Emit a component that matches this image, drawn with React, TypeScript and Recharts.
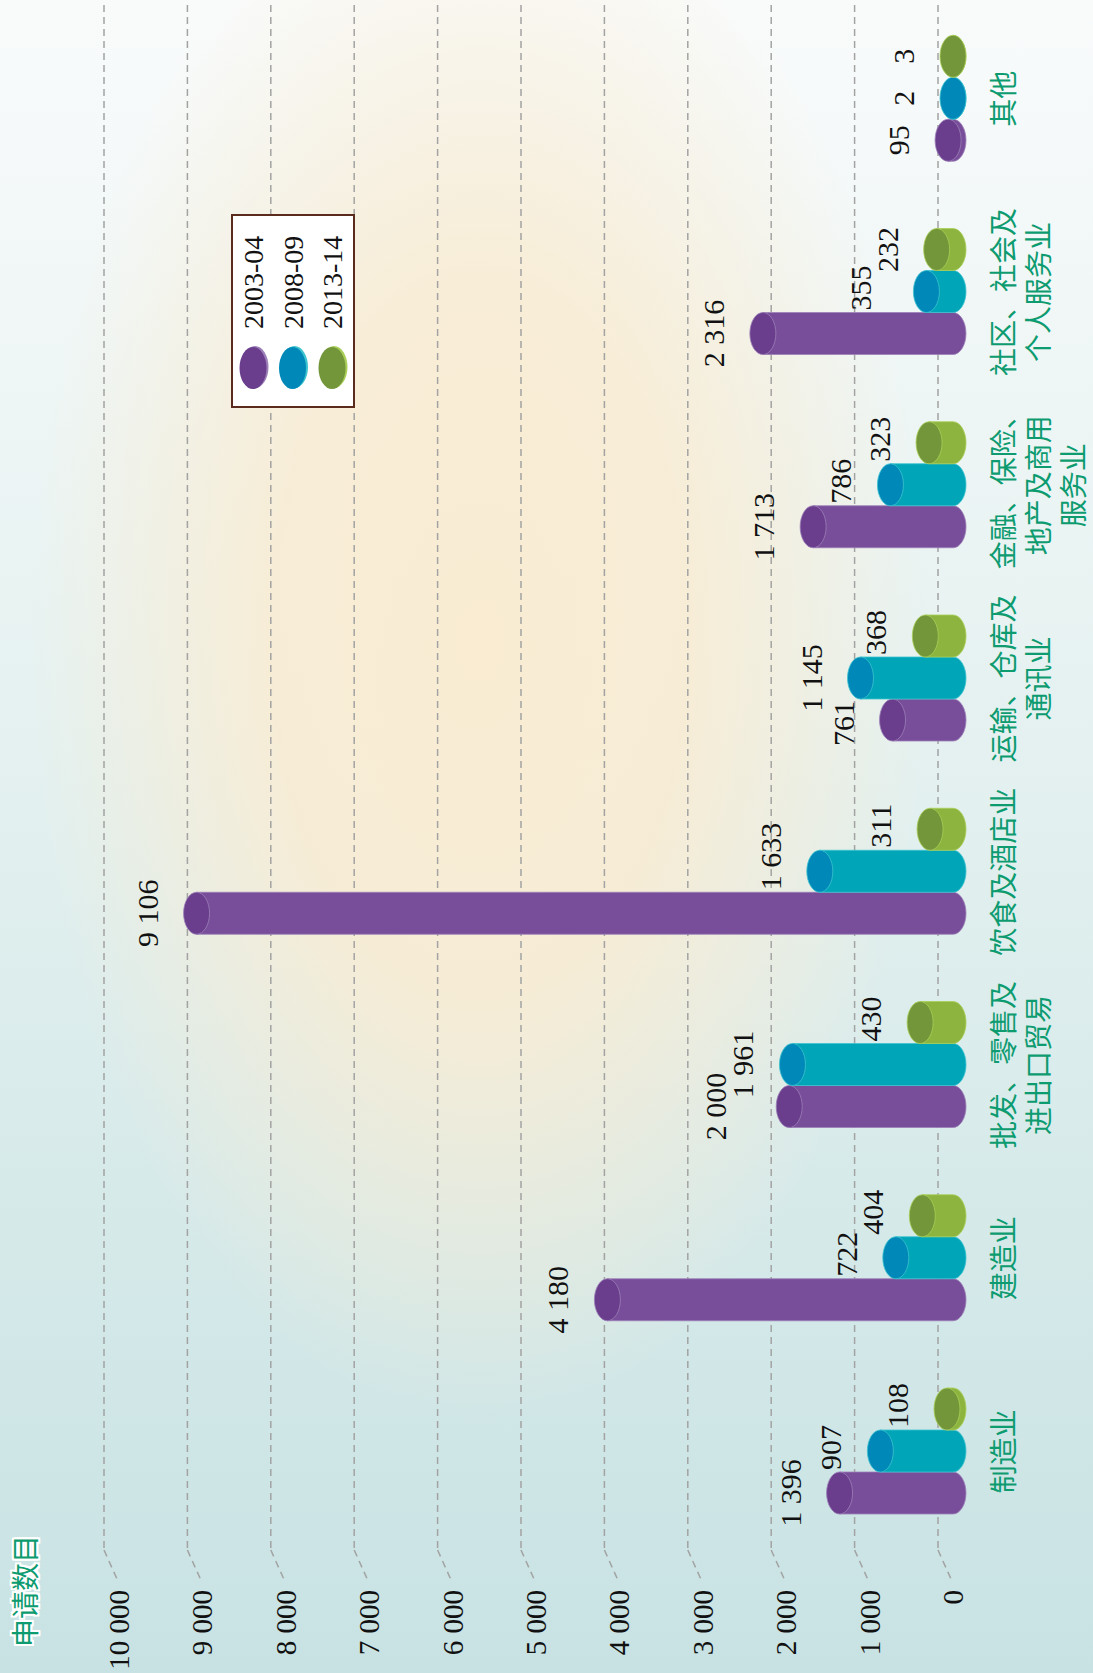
import React from 'react';
import { BarChart, Bar, XAxis, YAxis, CartesianGrid, Legend, LabelList } from 'recharts';

// 行业类别（换行符用于多行标签）
const CATEGORIES = [
  '制造业',
  '建造业',
  '批发、零售及\n进出口贸易',
  '饮食及酒店业',
  '运输、仓库及\n通讯业',
  '金融、保险、\n地产及商用\n服务业',
  '社区、社会及\n个人服务业',
  '其他',
];
const SERIES_NAMES = ['2003-04', '2008-09', '2013-14'];
const APPS_2003 = [1396, 4180, 2000, 9106, 761, 1713, 2316, 95];
const APPS_2008 = [907, 722, 1961, 1633, 1145, 786, 355, 2];
const APPS_2013 = [108, 404, 430, 311, 368, 323, 232, 3];
const Y_TICKS = [0, 1000, 2000, 3000, 4000, 5000, 6000, 7000, 8000, 9000, 10000];

const SERIES = [APPS_2003, APPS_2008, APPS_2013];
const data = CATEGORIES.map((name, i) => ({
  name,
  s0: APPS_2003[i],
  s1: APPS_2008[i],
  s2: APPS_2013[i],
}));

// chart is drawn upright, then the whole thing is turned -90deg
const W = 1673;
const H = 1093;
const MARGIN = { top: 104, right: 2, bottom: 0, left: 0 };
const Y_AXIS_W = 125;
const X_AXIS_H = 155;
const PLOT_TOP = MARGIN.top;
const PLOT_BOTTOM = H - X_AXIS_H;
const Y_MAX = 10000;

const BODY = ['#784e9a', '#00a6b7', '#8cb43e'];
const CAP = ['#6a3e8d', '#0089b8', '#74963b'];
const EDGE = ['#9c80b8', '#3cc3cf', '#a9cf58'];
const GREEN = '#0d9b70';
const SERIF = "'Liberation Serif', 'Times New Roman', serif";
const CJK = "'Noto Sans CJK SC', 'Noto Sans', sans-serif";

const BAR_W = 42;
const CAP_RY = 13;
const FLOOR_DEPTH = 28;
const CAP_LIFT = 5;
const LABEL_GAP = 26;
const LABEL_H = 24;

// 9106 -> "9 106"
function fmt(n: number): string {
  if (n < 1000) return String(n);
  return `${Math.floor(n / 1000)} ${String(n % 1000).padStart(3, '0')}`;
}

const yPx = (v: number) => PLOT_BOTTOM - (v / Y_MAX) * (PLOT_BOTTOM - PLOT_TOP);
const capTopOf = (v: number) => Math.min(yPx(v) + CAP_LIFT, PLOT_BOTTOM + FLOOR_DEPTH - 2 * CAP_RY);
const labelWidth = (s: string) => s.replace(/ /g, '').length * 15 + (s.split(' ').length - 1) * 7.5;

// value-label placement in one category: dx relative to own bar centre, baseline y
function labelLayout(ci: number): { dx: number; base: number }[] {
  const n = SERIES.length;
  const vals = SERIES.map((s) => s[ci]);
  const caps = vals.map(capTopOf);
  const cx = vals.map((_, s) => (s - (n - 1) / 2) * BAR_W);
  const w = vals.map((v) => labelWidth(fmt(v)));
  const base = caps.map((c) => c - LABEL_GAP);
  const pos = cx.slice();
  // keep off a taller neighbouring bar
  for (let s = 0; s < n; s++) {
    if (s > 0 && caps[s - 1] < base[s] + 2) pos[s] = Math.max(pos[s], cx[s - 1] + BAR_W / 2 + 2 + w[s] / 2);
    if (s < n - 1 && caps[s + 1] < base[s] + 2) pos[s] = Math.min(pos[s], cx[s + 1] - BAR_W / 2 - 2 - w[s] / 2);
  }
  // stack colliding labels, larger value on top
  for (let b = 1; b < n; b++) {
    const a = b - 1;
    const overlapX = Math.abs(pos[a] - pos[b]) < (w[a] + w[b]) / 2 + 4;
    if (overlapX && Math.abs(base[a] - base[b]) < LABEL_H) {
      if (vals[a] >= vals[b]) base[a] = base[b] - LABEL_H - 3;
      else base[b] = base[a] - LABEL_H - 3;
    }
  }
  return pos.map((p, s) => ({ dx: p - cx[s], base: base[s] }));
}

function cylinder(si: number) {
  return (props: any) => {
    const { x, y, width, height } = props;
    if (x == null || y == null) return <g />;
    const rx = width / 2;
    const cx = x + rx;
    const floor = y + height + FLOOR_DEPTH;
    const top = Math.min(y + CAP_LIFT, floor - 2 * CAP_RY);
    const c1 = top + CAP_RY;
    const c2 = floor - CAP_RY;
    const d = `M${x},${c1} L${x},${c2} A${rx},${CAP_RY} 0 0 0 ${x + width},${c2} L${x + width},${c1} Z`;
    return (
      <g>
        <path d={d} fill={BODY[si]} stroke={EDGE[si]} strokeWidth={0.8} />
        <ellipse cx={cx} cy={c1} rx={rx} ry={CAP_RY} fill={CAP[si]} stroke={EDGE[si]} strokeWidth={0.8} />
      </g>
    );
  };
}

function valueLabel(si: number) {
  return (props: any) => {
    const { x, width, value } = props;
    let ci = props.index;
    if (ci == null) ci = Math.floor((x - Y_AXIS_W) / ((W - Y_AXIS_W - MARGIN.right) / CATEGORIES.length));
    const { dx, base } = labelLayout(ci)[si];
    return (
      <text x={x + width / 2 + dx} y={base} textAnchor="middle" fontFamily={SERIF} fontSize={30} fill="#111">
        {fmt(Number(value))}
      </text>
    );
  };
}

function CategoryTick(props: any) {
  const { x, y, payload } = props;
  const lines = String(payload.value).split('\n');
  return (
    <text x={x} y={y + 76} textAnchor="middle" fontFamily={CJK} fontSize={28} fill={GREEN}>
      {lines.map((l, i) => (
        <tspan key={i} x={x} dy={i === 0 ? 0 : 35}>
          {l}
        </tspan>
      ))}
    </text>
  );
}

function ValueTick(props: any) {
  const { x, y, payload } = props;
  return (
    <g>
      <line x1={x - 2} y1={y} x2={x - 31} y2={y + 13} stroke="#a3a3a3" strokeWidth={1.5} strokeDasharray="7 5" />
      <text x={x - 42} y={y + 25} textAnchor="end" fontFamily={SERIF} fontSize={29} fill="#111">
        {fmt(Number(payload.value))}
      </text>
    </g>
  );
}

function LegendBox(props: any) {
  const items = props.payload && props.payload.length ? props.payload.map((p: any) => p.value) : SERIES_NAMES;
  return (
    <svg width={194} height={124} style={{ display: 'block' }}>
      <rect x={1} y={1} width={192} height={122} fill="#ffffff" stroke="#5b2b1e" strokeWidth={2} />
      {items.map((n: string, i: number) => {
        const cy = 22 + i * 39.5;
        return (
          <g key={n}>
            <ellipse cx={41} cy={cy + 2} rx={21} ry={13.5} fill={EDGE[i]} />
            <ellipse cx={40} cy={cy} rx={21} ry={13.5} fill={CAP[i]} />
            <text x={79} y={cy + 10} fontFamily={SERIF} fontSize={28} fill="#111">
              {n}
            </text>
          </g>
        );
      })}
    </svg>
  );
}

export default function App() {
  return (
    <div
      style={{
        position: 'absolute',
        left: 0,
        top: 0,
        width: H,
        height: W,
        overflow: 'hidden',
        background:
          'radial-gradient(ellipse 450px 780px at 480px 640px, rgba(249,236,211,1) 0%, rgba(249,236,211,0.9) 45%, rgba(249,236,211,0) 100%), linear-gradient(to bottom, #f9fbfb 0%, #e4f1f0 45%, #c8e2e3 100%)',
      }}
    >
      <div
        style={{
          position: 'absolute',
          left: 0,
          top: 0,
          width: W,
          height: H,
          transformOrigin: '0 0',
          transform: `translateY(${W}px) rotate(-90deg)`,
        }}
      >
        <div
          style={{
            position: 'absolute',
            left: 26,
            top: 4,
            fontFamily: CJK,
            fontSize: 28,
            color: GREEN,
            zIndex: 2,
            textShadow:
              '2px 0 0 #fff, -2px 0 0 #fff, 0 2px 0 #fff, 0 -2px 0 #fff, 2px 2px 0 #fff, -2px -2px 0 #fff, 2px -2px 0 #fff, -2px 2px 0 #fff',
          }}
        >
          申请数目
        </div>
        <BarChart width={W} height={H} data={data} margin={MARGIN} barSize={BAR_W} barGap={0}>
          <CartesianGrid vertical={false} stroke="#a3a3a3" strokeWidth={1.5} strokeDasharray="7 5" />
          <XAxis
            dataKey="name"
            height={X_AXIS_H}
            axisLine={false}
            tickLine={false}
            tickSize={0}
            tickMargin={0}
            interval={0}
            tick={<CategoryTick />}
          />
          <YAxis
            domain={[0, Y_MAX]}
            ticks={Y_TICKS}
            width={Y_AXIS_W}
            axisLine={false}
            tickLine={false}
            tickSize={0}
            tickMargin={0}
            interval={0}
            tick={<ValueTick />}
          />
          <Legend
            layout="horizontal"
            verticalAlign="middle"
            align="center"
            content={<LegendBox />}
            wrapperStyle={{ position: 'absolute', left: 1265, top: 231, width: 194, height: 124 }}
          />
          {SERIES_NAMES.map((name, si) => (
            <Bar
              key={name}
              dataKey={`s${si}`}
              name={name}
              fill={BODY[si]}
              shape={cylinder(si)}
              isAnimationActive={false}
            >
              <LabelList dataKey={`s${si}`} content={valueLabel(si)} />
            </Bar>
          ))}
        </BarChart>
      </div>
    </div>
  );
}
